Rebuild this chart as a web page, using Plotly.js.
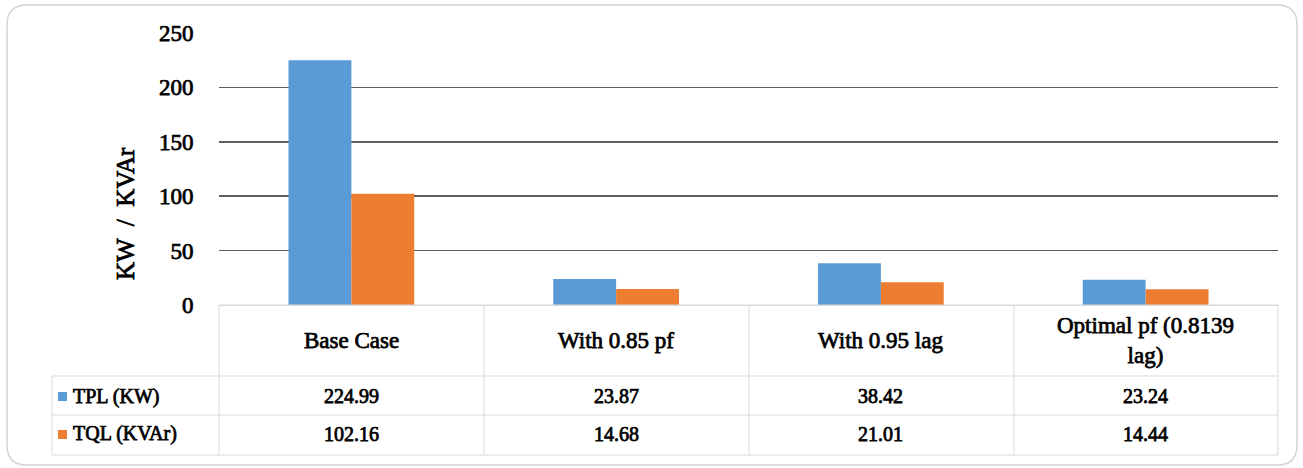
<!DOCTYPE html>
<html>
<head>
<meta charset="utf-8">
<script src="https://cdn.plot.ly/plotly-3.0.1.min.js"></script>
<style>
html,body{margin:0;padding:0;background:#fff;}
#chart{width:1303px;height:468px;}
#chart text{stroke:#000 !important;stroke-width:0.75px !important;}
</style>
</head>
<body>
<div id="chart"></div>
<script>
const categories = ["Base Case", "With 0.85 pf", "With 0.95 lag", "Optimal pf (0.8139<br>lag)"];
const seriesNames = ["TPL (KW)", "TQL (KVAr)"];
const tpl = [224.99, 23.87, 38.42, 23.24];
const tql = [102.16, 14.68, 21.01, 14.44];
const yTicks = [0, 50, 100, 150, 200, 250];
const colors = ["#5B9BD5", "#ED7D31"];

const W = 1303, H = 468;
const L = 219, R = 1278, T = 33, B = 305;
const pw = R - L, ph = B - T;
const px = x => (x - L) / pw;
const py = y => (B - y) / ph;
const FONT = "Liberation Serif";
const grid = "#d9d9d9";

const traces = [
  {type: "bar", name: seriesNames[0], x: categories, y: tpl, marker: {color: colors[0]}, hoverinfo: "none"},
  {type: "bar", name: seriesNames[1], x: categories, y: tql, marker: {color: colors[1]}, hoverinfo: "none"}
];

const shapes = [];
const line = (x0, y0, x1, y1, c) => shapes.push({type: "line", xref: "paper", yref: "paper",
  x0: px(x0), y0: py(y0), x1: px(x1), y1: py(y1), line: {color: c || grid, width: 1}, layer: "above"});

// rounded outer frame
(function () {
  const x0 = 7, y0 = 5, x1 = 1297, y1 = 465, r = 20;
  const X = v => px(v), Y = v => py(v);
  const p = `M ${X(x0 + r)},${Y(y0)} L ${X(x1 - r)},${Y(y0)} Q ${X(x1)},${Y(y0)} ${X(x1)},${Y(y0 + r)} ` +
    `L ${X(x1)},${Y(y1 - r)} Q ${X(x1)},${Y(y1)} ${X(x1 - r)},${Y(y1)} L ${X(x0 + r)},${Y(y1)} ` +
    `Q ${X(x0)},${Y(y1)} ${X(x0)},${Y(y1 - r)} L ${X(x0)},${Y(y0 + r)} Q ${X(x0)},${Y(y0)} ${X(x0 + r)},${Y(y0)} Z`;
  shapes.push({type: "path", xref: "paper", yref: "paper", path: p, line: {color: "#d4d4d4", width: 1.5}, layer: "below"});
})();

// data table lines
const colEdges = [219, 484, 749, 1014, 1278];
const rowTop = 305, rowH1 = 376, rowH2 = 415, rowBot = 455, labelLeft = 52;
line(219, rowTop, 1278, rowTop);
line(labelLeft, rowH1, 1278, rowH1);
line(labelLeft, rowH2, 1278, rowH2);
line(labelLeft, rowBot, 1278, rowBot);
line(labelLeft, rowH1, labelLeft, rowBot);
colEdges.forEach(x => line(x, rowTop, x, rowBot));

// legend keys
const keyY = [396, 434];
keyY.forEach((cy, i) => shapes.push({type: "rect", xref: "paper", yref: "paper",
  x0: px(58), x1: px(67), y0: py(cy - 4), y1: py(cy + 5), fillcolor: colors[i], line: {width: 0}, layer: "above"}));

const annotations = [];
const f = (s) => ({family: FONT, size: s, color: "#000", weight: "normal"});
categories.forEach((c, i) => {
  annotations.push({xref: "x", yref: "paper", x: c, y: py(340), text: c, showarrow: false,
    font: f(23), xanchor: "center", yanchor: "middle"});
  annotations.push({xref: "x", yref: "paper", x: c, y: py(396), text: tpl[i].toFixed(2), showarrow: false,
    font: f(20), xanchor: "center", yanchor: "middle"});
  annotations.push({xref: "x", yref: "paper", x: c, y: py(434), text: tql[i].toFixed(2), showarrow: false,
    font: f(20), xanchor: "center", yanchor: "middle"});
});
seriesNames.forEach((n, i) => annotations.push({xref: "paper", yref: "paper", x: px(71), y: py(keyY[i]),
  text: n, showarrow: false, font: f(20), xanchor: "left", yanchor: "middle"}));
annotations.push({xref: "paper", yref: "paper", x: px(125), y: py(214), text: "KW  /  KVAr", textangle: -90,
  showarrow: false, font: f(25), xanchor: "center", yanchor: "middle"});

const layout = {
  width: W, height: H,
  margin: {l: L, r: W - R, t: T, b: H - B, pad: 0},
  paper_bgcolor: "#ffffff", plot_bgcolor: "rgba(0,0,0,0)",
  showlegend: false,
  barmode: "group", bargap: 0.525, bargroupgap: 0,
  font: {family: FONT, color: "#000"},
  xaxis: {type: "category", showticklabels: false, showgrid: false, showline: false, zeroline: false, ticks: "", fixedrange: true},
  yaxis: {range: [0, 250], tickvals: yTicks, ticktext: yTicks.map(String),
    tickfont: {family: FONT, size: 23, color: "#000", weight: "normal"},
    showgrid: true, gridcolor: "#5f5f5f", gridwidth: 1.6,
    zeroline: true, zerolinecolor: grid, zerolinewidth: 1,
    ticks: "outside", ticklen: 20, tickcolor: "rgba(0,0,0,0)", showline: false, fixedrange: true},
  shapes: shapes,
  annotations: annotations
};

Plotly.newPlot("chart", traces, layout, {displayModeBar: false, staticPlot: true});
</script>
</body>
</html>
